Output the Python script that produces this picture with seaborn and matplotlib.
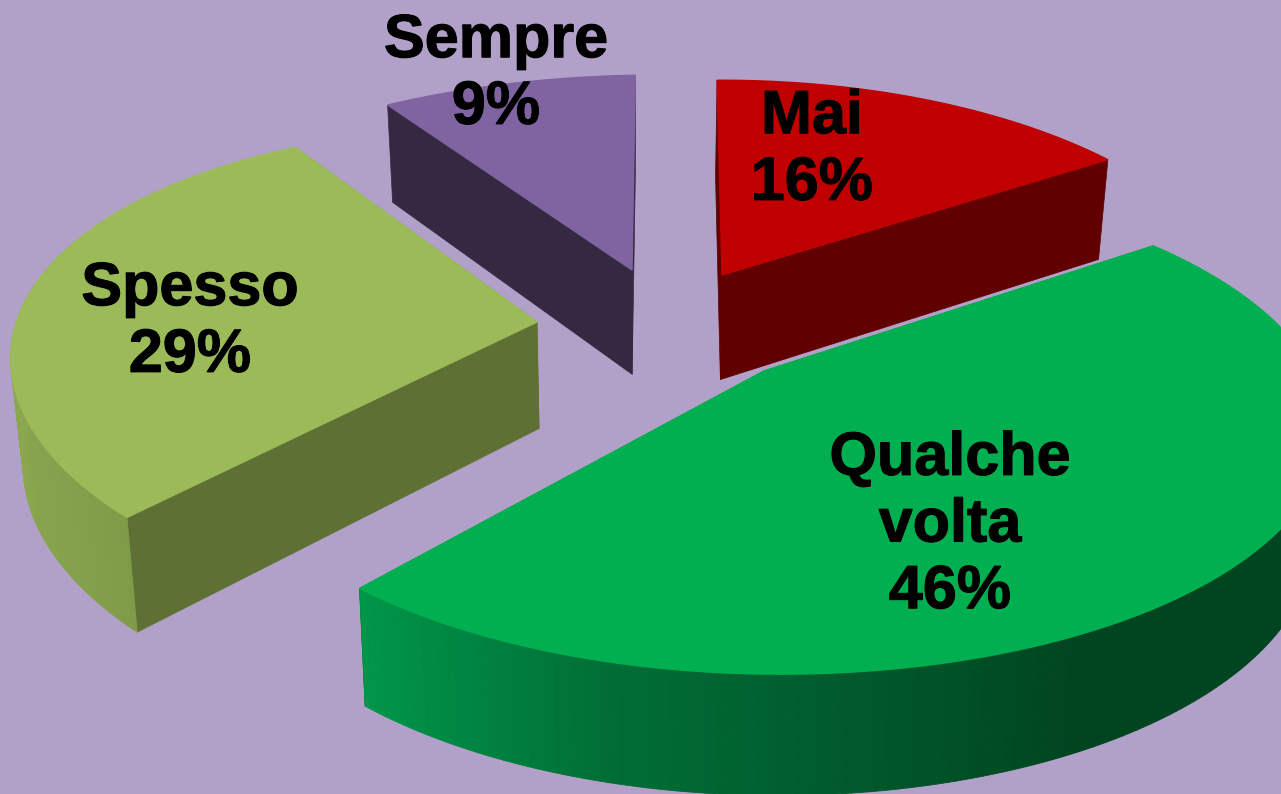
#!/usr/bin/env python
# coding: utf-8

# Exploded 3D look pie chart, drawn by hand since matplotlib has no 3D pie

import numpy as np
import matplotlib
matplotlib.use('Agg')
import matplotlib.pyplot as plt
import matplotlib.patheffects as pe
import seaborn as sns

# data, in clockwise order from the top
categories = ['Mai', 'Qualche\nvolta', 'Spesso', 'Sempre']
values = [16, 46, 29, 9]

# styles
top_colors = ['#C00000', '#00B050', '#9BBB59', '#8064A2']
wall_colors = ['#600000', '#00461F', '#5F7035', '#352841']
outer_stops = [['#800000', '#600000'],
               ['#00964A', '#006E36', '#005A2C', '#004420', '#004420'],
               ['#8AA64E', '#7F9B48'],
               ['#403251', '#352841']]
background = '#B1A0C7'

# layout (pixels): apex of each slice, its own width and lean, label position
apex_x = [722, 764, 537, 632]
apex_y = [275, 371, 322, 270]
width_x = [514, 540, 516, 546]
lean_x = [-6, -40, -11, 4]
lean_y = [2, 15, -12, 9]
label_x = [812, 950, 190, 496]
label_y = [151, 526, 323, 75]
draw_order = [3, 0, 2, 1]

# fake perspective of the pie disc
RY, PERSP = 237, 0.217


def project(angle, i):
    u, v = np.sin(angle), np.cos(angle)
    w = 1 + PERSP * v
    x = apex_x[i] + (width_x[i] * u + lean_x[i] * v) / w
    y = apex_y[i] - (RY * v + lean_y[i] * u) / w
    return x, y


def drop(x, y):
    # bottom edge of the pie: a bit lower and pulled toward the middle
    return 640 + (np.asarray(x) - 640) * 0.98, np.asarray(y) + 93 + 0.042 * np.asarray(y)


sns.set_theme(style='white')
plt.rcParams['font.family'] = ['Liberation Sans', 'DejaVu Sans']

fig, ax = plt.subplots(figsize=(12.81, 7.94), dpi=100, facecolor=background)
ax.set_position([0, 0, 1, 1])
ax.set_facecolor(background)
ax.set_xlim(0, 1281)
ax.set_ylim(794, 0)
ax.axis('off')

edges = np.radians(np.concatenate([[0], np.cumsum(values)]) / np.sum(values) * 360)

for i in draw_order:
    cx, cy = apex_x[i], apex_y[i]
    angles = np.linspace(edges[i], edges[i + 1], 200)
    arc_x, arc_y = project(angles, i)
    low_x, low_y = drop(arc_x, arc_y)
    ap_lx, ap_ly = drop(cx, cy)

    # cut walls
    for k in (0, -1):
        ax.fill([cx, arc_x[k], low_x[k], ap_lx], [cy, arc_y[k], low_y[k], ap_ly],
                color=wall_colors[i], lw=0.5)

    # rim, near side only, shaded from left to right
    near = np.where(np.cos(angles) < 0.1)[0]
    if len(near) > 1:
        pal = sns.blend_palette(outer_stops[i], n_colors=256)
        x0, x1 = arc_x[near].min(), arc_x[near].max()
        for k in near[:-1]:
            mid = (arc_x[k] + arc_x[k + 1]) / 2
            c = pal[int((mid - x0) / (x1 - x0) * 255)]
            ax.fill([arc_x[k], arc_x[k + 1], low_x[k + 1], low_x[k]],
                    [arc_y[k], arc_y[k + 1], low_y[k + 1], low_y[k]],
                    color=c, lw=0.6)

    # top face
    ax.fill(np.r_[cx, arc_x], np.r_[cy, arc_y], color=top_colors[i], lw=1.0)

for i, cat in enumerate(categories):
    ax.text(label_x[i], label_y[i], f'{cat}\n{values[i]}%', ha='center', va='center',
            fontsize=44, fontweight='bold', color='black', linespacing=1.22,
            path_effects=[pe.withStroke(linewidth=0.8, foreground='black')])

fig.savefig('out.png', dpi=100, facecolor=background)
